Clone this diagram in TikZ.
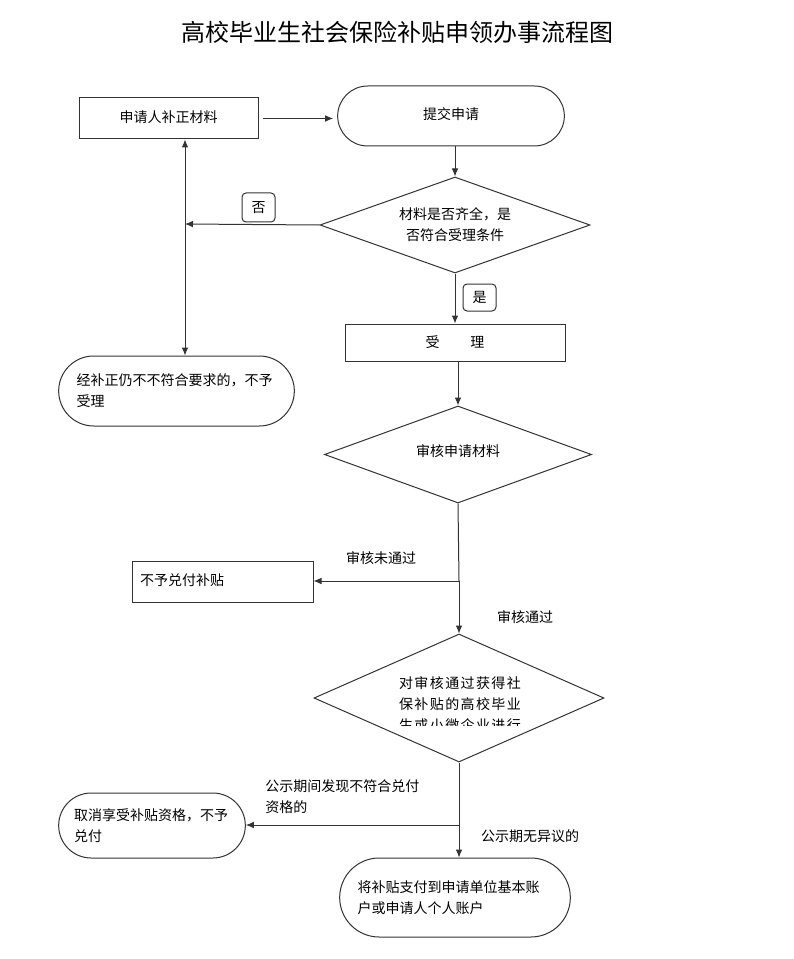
\documentclass[tikz,border=0pt]{standalone}
\usepackage{fontspec}
\setmainfont{Noto Sans CJK SC}
\newfontfamily\cjkspaced[LetterSpace=10]{Noto Sans CJK SC}
\usetikzlibrary{shapes.geometric,shapes.misc,arrows.meta}
\begin{document}
\begin{tikzpicture}[x=0.75pt,y=-0.75pt,
  every node/.style={font=\fontsize{10.5pt}{15.75pt}\selectfont, text=black},
  line/.style={draw=black!80, line width=0.75pt},
  arr/.style={line, -{Latex[length=6pt,width=5pt]}},
  rectbox/.style={line, rectangle, inner sep=2pt},
  pill/.style={line, rounded rectangle, inner sep=2pt},
  choice/.style={line, diamond, inner sep=1pt},
  tag/.style={line, rounded corners=3pt, inner sep=0pt, minimum width=33*0.75pt},
  lbl/.style={inner sep=0pt}]
\useasboundingbox (0,0) rectangle (793,959);
\fill[white] (0,0) rectangle (793,959);

\node[lbl, font=\fontsize{18pt}{22pt}\selectfont] (title) at (397,32) {高校毕业生社会保险补贴申领办事流程图};

\node[rectbox, minimum width=179*0.75pt, minimum height=41*0.75pt] (fix) at (168.5,118.5) {\raisebox{3pt}{申请人补正材料}};
\node[pill, minimum width=232*0.75pt, minimum height=60*0.75pt] (start) at (451,116) {\raisebox{3pt}{提交申请}};
\node[choice, minimum width=270*0.75pt, minimum height=96*0.75pt, aspect=2.8, align=center] (d1) at (455,225) {材料是否齐全，是\\否符合受理条件};
\node[tag, minimum height=29*0.75pt] (no) at (258.5,207.5) {否};
\node[tag, minimum height=27*0.75pt] (yes) at (479.5,297.5) {是};
\node[pill, minimum width=241*0.75pt, minimum height=70*0.75pt, text width=200*0.75pt, align=left] (rej) at (176.5,391) {经补正仍不不符合要求的，不予\\受理};
\node[rectbox, minimum width=220*0.75pt, minimum height=37*0.75pt] (acc) at (455,342.5) {受\hspace{2.2em}理};
\node[choice, minimum width=267*0.75pt, minimum height=97*0.75pt, aspect=2.75] (d2) at (458,454.5) {\raisebox{6pt}{审核申请材料}};
\node[rectbox, minimum width=181*0.75pt, minimum height=41*0.75pt, text width=165*0.75pt, align=left] (nopay) at (222.5,581.5) {\raisebox{3pt}{不予兑付补贴}};
\node[choice, minimum width=290*0.75pt, minimum height=128*0.75pt] (d3) at (459,698) {};
\begin{scope}
  \clip (380,660) rectangle (540,725);
  \node[lbl, align=center, font=\cjkspaced\fontsize{10.5pt}{15.75pt}\selectfont] (d3text) at (460,704) {对审核通过获得社\\保补贴的高校毕业\\生或小微企业进行};
\end{scope}
\node[pill, minimum width=192*0.75pt, minimum height=65*0.75pt, text width=156*0.75pt, align=left] (cancel) at (152,825.5) {取消享受补贴资格，不予\\兑付};
\node[pill, minimum width=236*0.75pt, minimum height=79*0.75pt, text width=195*0.75pt, align=left] (final) at (455,897.5) {将补贴支付到申请单位基本账\\户或申请人个人账户};

\node[lbl] (l1) at (381,558) {审核未通过};
\node[lbl] (l2) at (525,617) {审核通过};
\node[lbl, anchor=west, align=left] (l3) at (265,797) {公示期间发现不符合兑付\\资格的};
\node[lbl] (l4) at (530,836) {公示期无异议的};

\coordinate (j1) at (185,224);
\coordinate (j2) at (459,581);
\coordinate (j3) at (459,825);

\draw[arr] ([xshift=3pt]fix.east) -- ([xshift=-3pt]start.west |- fix.east);
\draw[arr] (start.south -| d1.north) -- (d1.north);
\draw[arr] (d1.west) -- (j1);
\draw[arr] (j1) -- (j1 |- fix.south);
\draw[arr] (j1) -- (j1 |- rej.north);
\draw[arr] (d1.south) -- (d1.south |- acc.north);
\draw[arr] (acc.south -| d2.north) -- (d2.north);
\draw[line] (d2.south) -- (j2);
\draw[arr] (j2) -- (d3.north);
\draw[arr] (j2) -- (j2 -| nopay.east);
\draw[line] (d3.south) -- (j3);
\draw[arr] (j3) -- (j3 |- final.north);
\draw[arr] (j3) -- (j3 -| cancel.east);
\end{tikzpicture}
\end{document}
